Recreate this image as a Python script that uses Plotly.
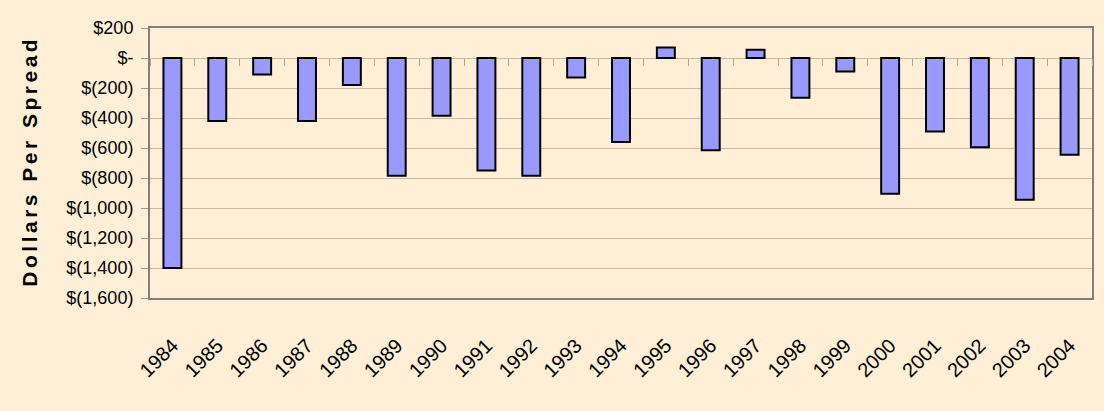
import plotly.graph_objects as go

years = [str(y) for y in range(1984, 2005)]
values = [-1400, -420, -110, -420, -180, -785, -385, -750, -785, -130,
          -560, 70, -615, 55, -265, -90, -905, -490, -595, -945, -645]
tick_vals = [200, 0, -200, -400, -600, -800, -1000, -1200, -1400, -1600]
tick_text = ["$200", "$-", "$(200)", "$(400)", "$(600)", "$(800)",
             "$(1,000)", "$(1,200)", "$(1,400)", "$(1,600)"]
y_title = "Dollars Per Spread"

FONT = "Liberation Sans, Arial, sans-serif"
BG = "#FFEFD7"

fig = go.Figure()
fig.add_trace(go.Bar(
    x=years, y=values, width=0.4,
    marker=dict(color="#9999FF", line=dict(color="black", width=2)),
    hoverinfo="x+y", showlegend=False,
))
# invisible helper trace for the tick marks along the zero line
fig.add_trace(go.Scatter(
    x=years, y=values, xaxis="x2", mode="markers",
    marker=dict(opacity=0), hoverinfo="skip", showlegend=False,
))

ymin, ymax = -1600, 200
zero_pos = (0 - ymin) / (ymax - ymin)
xrange = [-0.5, len(years) - 0.5]

spaced_title = "\u2006".join(list(y_title))

fig.update_layout(
    width=1104, height=411,
    margin=dict(l=150, r=10, t=28, b=113),
    paper_bgcolor=BG, plot_bgcolor=BG,
    font=dict(family=FONT, color="black"),
    xaxis=dict(
        type="category", range=xrange, tickangle=-45, tickfont=dict(size=20, family=FONT),
        showgrid=False, ticks="", ticklabelstandoff=26,
        showline=True, mirror=True, linecolor="#7F7F7F", linewidth=2,
    ),
    xaxis2=dict(
        type="category", range=xrange, overlaying="x", anchor="free", position=zero_pos,
        side="bottom", showticklabels=False, ticks="outside", tickson="boundaries",
        ticklen=7, tickcolor="#B5A990", tickwidth=1, showgrid=False,
        showline=False,
    ),
    yaxis=dict(
        range=[ymin, ymax], tickvals=tick_vals, ticktext=tick_text,
        tickfont=dict(size=18, family=FONT),
        showgrid=True, gridcolor="#C9BBA2", gridwidth=1,
        zeroline=False,
        ticks="outside", ticklen=7, tickcolor="#9A9A9A",
        ticklabelstandoff=4,
        showline=True, mirror=True, linecolor="#7F7F7F", linewidth=2,
        title=dict(text=spaced_title, font=dict(size=21, family=FONT, weight="bold"),
                   standoff=23),
    ),
    bargap=0.6,
)

fig.write_html("out.html", config={"displayModeBar": False},
               post_script="document.body.style.margin='0';document.body.style.padding='0';")
